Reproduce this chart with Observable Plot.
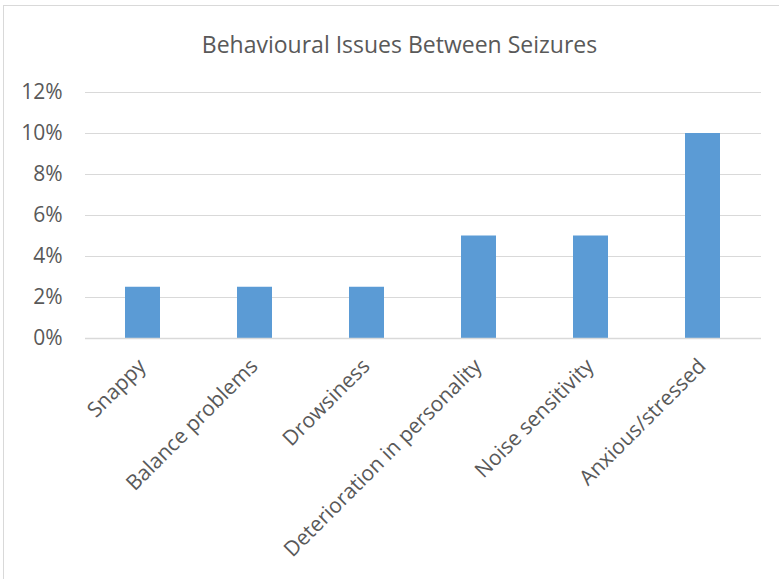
<!DOCTYPE html>
<html>
<head>
<meta charset="utf-8">
<script src="https://cdn.jsdelivr.net/npm/d3@7"></script>
<script src="https://cdn.jsdelivr.net/npm/@observablehq/plot@0.6"></script>
<style>
  html, body { margin: 0; padding: 0; background: #fff; overflow: hidden; }
  #frame { position: absolute; left: 0; top: 0; width: 779px; height: 579px; overflow: hidden; }
  #border { position: absolute; left: 3px; top: 5px; width: 800px; height: 600px;
            border-left: 1px solid #d9d9d9; border-top: 1px solid #d9d9d9; }
  #title { position: absolute; left: 0; width: 799px; top: 28px; text-align: center;
           font-family: "Open Sans", sans-serif; font-size: 23px; color: #595959; }
  #chart { position: absolute; left: 0; top: 60px; }
</style>
</head>
<body>
<div id="frame">
  <div id="border"></div>
  <div id="title">Behavioural Issues Between Seizures</div>
  <div id="chart"></div>
</div>
<script>
// Share of respondents reporting each behavioural issue between seizures
const categories = [
  "Snappy",
  "Balance problems",
  "Drowsiness",
  "Deterioration in personality",
  "Noise sensitivity",
  "Anxious/stressed"
];
const shares = [0.025, 0.025, 0.025, 0.05, 0.05, 0.10];
const yTicks = [0, 0.02, 0.04, 0.06, 0.08, 0.10, 0.12];
const yTickLabels = ["0%", "2%", "4%", "6%", "8%", "10%", "12%"];

const rows = categories.map((c, i) => ({category: c, share: shares[i]}));
const yLabelRows = yTicks.map((v, i) => ({value: v, label: yTickLabels[i]}));

const ink = "#595959";
const gap = 0.687; // fraction of each category slot left empty
const chart = Plot.plot({
  width: 779,
  height: 519,
  marginLeft: 85,
  marginRight: 18,
  marginTop: 32,
  marginBottom: 241,
  style: {fontFamily: "'Open Sans', sans-serif", color: ink, background: "transparent"},
  x: {domain: categories, paddingInner: gap, paddingOuter: gap / 2, axis: null},
  y: {domain: [0, 0.12], axis: null},
  marks: [
    Plot.gridY(yTicks, {stroke: "#d9d9d9", strokeOpacity: 1, strokeWidth: 1}),
    Plot.barY(rows, {x: "category", y: "share", fill: "#5b9bd5"}),
    Plot.ruleY([0], {stroke: "#d9d9d9", strokeWidth: 1.5}),
    // value axis labels
    Plot.text(yLabelRows, {
      y: "value", text: "label", frameAnchor: "left", textAnchor: "end",
      dx: -23, fontSize: 21, fill: ink
    }),
    // category labels, slanted
    Plot.text(categories, {
      x: d => d, text: d => d, frameAnchor: "bottom", textAnchor: "end",
      rotate: -45, dx: 4, dy: 29, fontSize: 21, fill: ink
    })
  ]
});
document.getElementById("chart").appendChild(chart);
</script>
</body>
</html>
